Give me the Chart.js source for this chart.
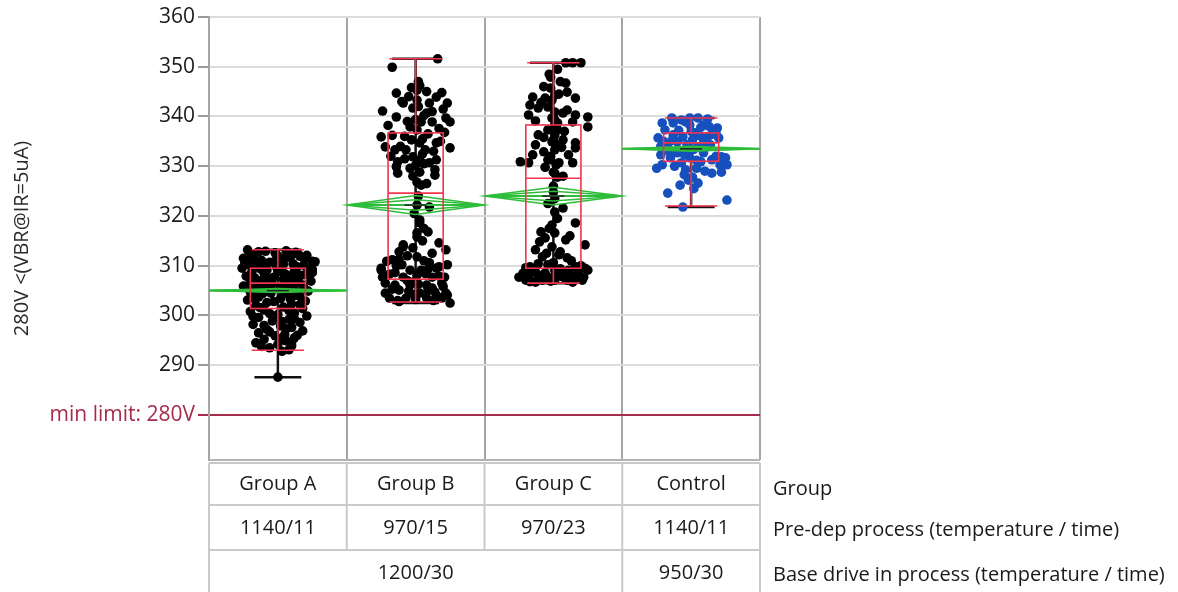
<!DOCTYPE html>
<html><head><meta charset="utf-8">
<script src="https://cdn.jsdelivr.net/npm/chart.js@4"></script>
<style>html,body{margin:0;padding:0;background:#fff}canvas{display:block}</style>
</head><body>
<canvas id="c" width="1178" height="592"></canvas>
<script>
// ---------- DATA ----------
const groupLabels = ['Group A','Group B','Group C','Control'];
const preDepLabels = ['1140/11','970/15','970/23','1140/11'];
const baseDriveLabels = ['1200/30','950/30'];
const baseDriveSpans = [3,1];
const rowTitles = ['Group','Pre-dep process (temperature / time)','Base drive in process (temperature / time)'];
const yAxisTitle = '280V <(VBR@IR=5uA)';
const yTickValues = [280,290,300,310,320,330,340,350,360];
const limitValue = 280;
const limitLabel = 'min limit: 280V';

const aValues = [313.2,312.9,313.0,312.7,312.4,312.1,312.6,311.7,311.5,311.9,311.1,310.9,311.3,310.7,310.8,310.2,310.4,309.9,310.1,309.7,309.5,309.3,309.1,308.9,308.7,308.4,308.2,307.9,307.7,307.5,307.2,306.9,306.7,306.5,306.3,306.1,305.9,305.7,305.4,305.2,304.9,304.7,304.5,304.2,303.9,303.7,303.4,303.1,302.9,302.6,302.3,302.0,301.7,301.4,301.1,300.8,300.5,300.2,299.9,299.6,299.2,298.9,298.6,298.2,297.9,297.6,297.2,296.9,296.5,296.2,295.9,295.5,295.2,294.9,294.5,294.2,293.9,293.5,293.1,292.8,287.6,312.0,311.6,310.0,309.0,308.0,307.4,306.0,305.0,312.3,311.0,308.6,307.0,
  312.8,312.5,311.8,311.4,310.9,310.5,310.3,309.8,309.4,309.2,308.8,308.5,308.1,307.8,307.6,307.3,306.8,306.6,306.2,305.8,305.5,305.1,304.8,304.4,304.0,303.6,303.3,302.8,302.2,301.6,301.0,300.4,299.8,299.3,298.8,298.0,297.3,296.7,296.0,295.3,294.6,293.8];
const aJitter = [-0.22,-0.09,0.06,0.13,-0.17,0.21,-0.02,0.09,-0.25,0.16,-0.12,0.25,0.01,-0.06,0.27,-0.21,0.11,-0.15,0.19,-0.01,-0.26,0.22,-0.08,0.12,-0.19,0.05,0.20,-0.23,-0.03,0.15,-0.11,0.24,-0.16,0.08,-0.04,0.18,-0.25,0.02,-0.12,0.12,0.22,-0.20,-0.05,0.08,0.16,-0.14,0.02,-0.22,0.20,-0.08,0.10,-0.16,0.04,0.18,-0.10,-0.20,0.12,0.00,0.21,-0.14,0.08,-0.04,0.16,-0.18,0.02,0.10,-0.08,0.18,-0.14,0.05,-0.02,0.12,-0.10,0.06,-0.16,0.00,0.10,-0.06,0.08,0.03,0.00,0.00,0.05,-0.10,0.02,0.08,-0.06,0.10,-0.08,0.15,-0.18,0.25,-0.20,
  -0.14,0.09,-0.20,0.19,-0.02,-0.24,0.04,0.14,-0.13,0.25,0.00,-0.10,0.17,0.11,-0.17,0.04,0.14,-0.09,-0.20,0.07,0.19,-0.15,0.04,-0.11,0.12,-0.19,0.09,-0.03,0.16,-0.13,0.08,-0.06,-0.18,0.12,0.03,-0.10,0.06,-0.06,0.14,0.02,0.10,-0.12];

const bValues = [351.6,349.9,344.7,342.7,341.1,339.9,345.3,343.3,342.7,343.9,342.7,340.7,338.9,339.7,338.9,341.7,338.9,337.3,335.9,333.9,333.3,335.3,334.7,333.3,334.7,333.7,333.3,331.9,330.9,331.3,330.7,331.3,329.9,329.3,329.6,328.8,326.8,328.2,328.6,322.2,321.8,326.2,318.6,316.8,315.8,314.2,313.6,314.6,313.2,311.8,311.2,310.2,310.6,309.5,309.1,309.1,309.5,310.2,307.7,307.7,308.1,307.7,307.7,306.1,306.1,306.1,306.5,304.5,305.1,304.5,304.7,304.1,303.5,303.5,303.5,303.5,302.5,309.1,306.5,311.2,313.8,316.6,309.8,304.5,319.2,317.5,346.2,344.0,340.2,337.9,336.5,336.0,335.0,332.5,332.0,330.2,344.8,341.5,338.2,336.8,308.6,308.4,306.8,305.5,304.9,303.2,303.0,305.8,310.9,312.5,302.8,345.8,347.0,320.5,324.0,
  343.0,341.0,339.0,337.6,336.2,335.5,334.0,333.0,331.5,330.5,328.0,326.5,342.0,345.0,339.4,312.0,311.0,310.0,309.3,308.3,307.9,307.0,306.3,305.3,304.2,303.8,303.0,305.0,315.0,312.8];
const bJitter = [0.16,-0.17,-0.14,-0.09,-0.24,-0.14,0.01,0.01,0.10,0.15,0.23,0.08,0.12,0.22,0.25,-0.02,0.04,0.01,-0.25,-0.22,-0.15,-0.03,0.03,0.07,0.15,0.25,-0.07,-0.02,-0.13,0.03,0.10,0.15,-0.14,0.14,-0.04,0.03,0.01,0.14,-0.13,0.01,0.10,0.04,0.03,0.09,0.01,-0.09,-0.02,0.17,0.22,0.01,-0.17,-0.10,0.10,-0.25,-0.04,0.04,0.15,0.23,-0.24,-0.09,0.01,0.12,0.21,-0.15,-0.04,0.08,0.19,-0.22,-0.12,0.03,0.14,0.23,-0.19,-0.07,0.08,0.19,0.25,-0.25,-0.22,-0.12,-0.09,0.01,0.17,0.22,0.03,0.06,0.03,-0.05,0.06,-0.04,0.09,-0.08,0.18,0.05,-0.18,0.00,0.19,0.20,-0.20,0.21,-0.15,0.07,-0.01,0.12,-0.05,0.00,0.13,0.20,-0.21,0.12,-0.12,-0.03,0.02,-0.01,0.02,
  -0.10,0.12,-0.06,0.17,-0.17,0.05,-0.11,0.13,-0.08,0.06,-0.02,0.08,0.02,0.08,0.00,-0.06,0.06,-0.14,0.09,-0.19,0.17,-0.06,0.02,-0.17,-0.01,0.16,-0.13,0.09,0.05,-0.12];

const cValues = [350.8,350.8,350.8,347.9,345.7,346.7,344.9,343.7,343.9,342.3,341.7,340.3,343.7,341.9,340.9,340.7,340.3,339.9,337.9,338.9,338.7,337.3,336.3,336.3,334.3,334.9,335.3,334.7,332.9,333.3,332.3,332.3,333.7,330.9,330.7,331.3,330.7,330.7,328.8,327.8,328.6,320.8,321.6,318.6,318.2,316.8,316.6,315.6,315.2,313.2,313.8,314.2,311.8,312.2,311.6,310.6,309.8,309.5,309.8,307.7,307.7,307.7,307.7,307.7,307.7,307.7,308.5,308.7,308.7,308.7,309.1,309.1,308.5,309.1,307.1,307.1,307.1,307.1,307.1,306.7,306.7,338.3,339.3,339.7,337.3,335.3,334.3,343.3,344.3,331.3,330.3,326.0,323.5,348.5,347.0,310.2,308.0,306.9,312.8,317.5,
  349.5,346.0,344.5,342.8,341.3,339.1,337.0,335.8,333.8,332.0,329.8,328.0,324.8,322.5,319.5,316.0,314.8,312.5,311.0,310.4,309.4,308.9,308.2,307.5,307.3,306.8,307.9,308.1,310.0,309.6];
const cJitter = [0.09,0.14,0.20,-0.02,-0.02,0.09,0.10,0.16,-0.15,-0.17,-0.11,-0.18,-0.06,-0.04,0.01,0.07,0.16,0.25,0.25,0.14,0.03,-0.04,-0.11,0.01,-0.13,-0.01,0.07,0.16,-0.07,0.01,-0.15,0.11,0.16,-0.24,-0.18,-0.04,0.04,0.14,0.00,0.03,0.01,0.01,0.07,0.16,-0.01,-0.09,0.01,-0.06,0.09,-0.13,-0.01,0.23,-0.08,0.04,0.10,0.00,-0.17,0.23,0.16,-0.25,-0.18,-0.11,-0.04,0.07,0.14,0.22,-0.22,-0.13,0.04,0.18,0.25,0.01,-0.06,0.11,-0.20,-0.08,0.01,0.10,0.21,-0.13,0.14,0.01,0.01,-0.01,0.03,0.00,0.02,-0.01,0.01,-0.02,0.02,0.00,0.01,-0.03,0.05,-0.04,0.08,-0.02,0.05,-0.03,
  0.03,-0.07,0.04,-0.09,0.10,-0.13,0.08,-0.07,0.06,-0.02,-0.06,0.07,0.00,-0.04,0.03,0.12,-0.10,-0.05,0.13,-0.11,0.05,-0.16,0.12,-0.01,0.18,-0.17,0.06,-0.08,0.20,-0.20];

const ctlValues = [339.7,339.7,339.7,339.3,338.7,337.3,337.7,335.7,336.3,335.9,336.7,335.9,335.7,334.3,334.3,333.9,334.3,332.9,332.7,332.7,332.3,331.7,331.7,331.7,329.6,330.3,330.9,331.3,330.3,330.3,328.8,329.6,329.3,327.8,326.6,326.2,324.6,323.2,321.8,338.7,338.3,338.3,334.9,335.3,330.7,327.2,337.0,336.0,333.0,332.0,329.0,328.3,325.5,338.0,335.0,
  339.5,338.9,337.8,337.2,336.4,335.2,334.6,333.4,332.4,331.2,330.0,328.6,336.9,334.0,331.9];
const ctlJitter = [-0.14,-0.01,0.05,-0.07,-0.21,-0.19,0.19,-0.24,-0.13,-0.06,0.03,0.12,0.20,-0.17,-0.03,0.05,0.14,-0.01,-0.10,0.09,-0.22,-0.15,-0.01,0.25,-0.25,-0.21,0.07,0.15,0.21,0.26,0.22,0.04,-0.04,0.01,0.05,-0.08,-0.17,0.26,-0.06,-0.13,-0.01,0.09,-0.10,0.01,-0.07,-0.02,0.00,0.07,-0.16,0.18,0.10,-0.05,0.02,0.13,-0.20,
  0.12,-0.04,0.07,-0.09,0.15,-0.14,0.09,0.02,-0.05,0.04,-0.12,0.15,0.18,-0.22,0.22];

// box-plot statistics
const whiskerHigh = [313.2,351.6,350.8,339.7];
const q3 = [309.5,336.7,338.3,336.7];
const median = [306.5,324.6,327.6,334.7];
const q1 = [301.4,307.3,309.5,331.0];
const whiskerLow = [293.0,302.7,306.5,322.0];
const rangeLow = [287.6,302.5,306.5,321.8];
const rangeHigh = [313.2,351.6,350.8,339.7];
const means = [305.0,322.2,324.0,333.5];
const meanCI = [0.4,1.9,1.8,0.5];

// ---------- CHART ----------
Chart.defaults.font.family = "'Open Sans','Noto Sans',sans-serif";
const RED = '#f4334f', GREEN = '#2ebd3a', LIMIT = '#a62b4d';

function pts(vals, jit, g){ return vals.map((v,k)=>({x:g+jit[k], y:v})); }

function seg(ctx,x1,y1,x2,y2){ ctx.beginPath(); ctx.moveTo(x1,y1); ctx.lineTo(x2,y2); ctx.stroke(); }

const overlay = {
  id:'overlay',
  beforeDatasetsDraw(chart){
    const {ctx, scales:{x,y}} = chart;
    ctx.save();
    ctx.strokeStyle = '#111'; ctx.lineWidth = 2.5;
    groupLabels.forEach((g,i)=>{
      const cx = x.getPixelForValue(i);
      const hw = x.getPixelForValue(i+0.17) - cx;
      const lo = y.getPixelForValue(rangeLow[i]), hi = y.getPixelForValue(rangeHigh[i]);
      seg(ctx,cx,lo,cx,hi);
      seg(ctx,cx-hw,lo,cx+hw,lo);
      seg(ctx,cx-hw,hi,cx+hw,hi);
    });
    ctx.restore();
  },
  afterDatasetsDraw(chart){
    const {ctx, scales:{x,y}} = chart;
    ctx.save();
    groupLabels.forEach((g,i)=>{
      const cx = x.getPixelForValue(i);
      const L = x.getPixelForValue(i-0.5), R = x.getPixelForValue(i+0.5);
      const m = y.getPixelForValue(means[i]);
      const t = y.getPixelForValue(means[i]+meanCI[i]), b = y.getPixelForValue(means[i]-meanCI[i]);
      const ti = y.getPixelForValue(means[i]+meanCI[i]*0.55), bi = y.getPixelForValue(means[i]-meanCI[i]*0.55);
      ctx.strokeStyle = GREEN; ctx.lineWidth = 1.5;
      ctx.beginPath(); ctx.moveTo(L,m); ctx.lineTo(cx,t); ctx.lineTo(R,m); ctx.lineTo(cx,b); ctx.closePath(); ctx.stroke();
      ctx.beginPath(); ctx.moveTo(L,m); ctx.lineTo(cx,ti); ctx.lineTo(R,m); ctx.lineTo(cx,bi); ctx.closePath(); ctx.stroke();
      ctx.lineWidth = 2;
      seg(ctx,L,m,R,m);
      const bw = x.getPixelForValue(i+0.2) - cx;
      const cw = x.getPixelForValue(i+0.19) - cx;
      const pQ3 = y.getPixelForValue(q3[i]), pQ1 = y.getPixelForValue(q1[i]);
      const pMed = y.getPixelForValue(median[i]);
      const pHi = y.getPixelForValue(whiskerHigh[i]), pLo = y.getPixelForValue(whiskerLow[i]);
      ctx.strokeStyle = RED; ctx.lineWidth = 1.6;
      ctx.strokeRect(cx-bw, pQ3, 2*bw, pQ1-pQ3);
      seg(ctx,cx-bw,pMed,cx+bw,pMed);
      seg(ctx,cx,pQ3,cx,pHi); seg(ctx,cx,pQ1,cx,pLo);
      seg(ctx,cx-cw,pHi,cx+cw,pHi); seg(ctx,cx-cw,pLo,cx+cw,pLo);
      ctx.strokeStyle = '#222'; ctx.lineWidth = 1.5;
      const mw = x.getPixelForValue(i+0.08) - cx;
      seg(ctx,cx-mw,m,cx+mw,m);
    });
    ctx.restore();
  },
  afterDraw(chart){
    const {ctx, chartArea:a, scales:{x,y}} = chart;
    ctx.save();
    ctx.strokeStyle = '#b4b4b4'; ctx.lineWidth = 2;
    seg(ctx,a.left,a.bottom,a.right,a.bottom);
    const edges = [-0.5,0.5,1.5,2.5,3.5].map(v=>x.getPixelForValue(v));
    const r0 = a.bottom+3, r1 = 505, r2 = 550, r3 = 592;
    ctx.strokeStyle = '#c9c9c9'; ctx.lineWidth = 2;
    seg(ctx,edges[0],r0,edges[4],r0);
    seg(ctx,edges[0],r1,edges[4],r1);
    seg(ctx,edges[0],r2,edges[4],r2);
    edges.forEach(e=>seg(ctx,e,r0,e,r2));
    let acc = 0;
    const spanEdges = [edges[0]];
    baseDriveSpans.forEach(s=>{ acc += s; spanEdges.push(edges[acc]); });
    spanEdges.forEach(e=>seg(ctx,e,r2,e,r3));
    ctx.fillStyle = '#1a1a1a';
    ctx.font = "20px 'Open Sans','Noto Sans',sans-serif";
    ctx.textAlign = 'center'; ctx.textBaseline = 'middle';
    groupLabels.forEach((g,i)=>ctx.fillText(g, x.getPixelForValue(i), (r0+r1)/2));
    preDepLabels.forEach((g,i)=>ctx.fillText(g, x.getPixelForValue(i), (r1+r2)/2+1));
    baseDriveLabels.forEach((g,i)=>ctx.fillText(g, (spanEdges[i]+spanEdges[i+1])/2, (r2+r3)/2+2));
    ctx.textAlign = 'left';
    const lx = edges[4] + 13;
    ctx.fillText(rowTitles[0], lx, (r0+r1)/2+5);
    ctx.fillText(rowTitles[1], lx, (r1+r2)/2+3);
    ctx.fillText(rowTitles[2], lx, (r2+r3)/2+4);
    ctx.restore();
  }
};

new Chart(document.getElementById('c'), {
  type:'scatter',
  data:{ datasets:[
    {data:pts(aValues,aJitter,0), backgroundColor:'#000'},
    {data:pts(bValues,bJitter,1), backgroundColor:'#000'},
    {data:pts(cValues,cJitter,2), backgroundColor:'#000'},
    {data:pts(ctlValues,ctlJitter,3), backgroundColor:'#1550bd'}
  ]},
  options:{
    responsive:false, animation:false,
    layout:{padding:{top:17,right:418,bottom:0,left:0}},
    elements:{point:{radius:4.8,borderWidth:0,hoverRadius:4.8}},
    plugins:{legend:{display:false},tooltip:{enabled:false}},
    scales:{
      x:{type:'linear',min:-0.5,max:3.5,
        afterBuildTicks(s){ s.ticks=[-0.5,0.5,1.5,2.5,3.5].map(v=>({value:v})); },
        afterFit(s){ s.height = 132; },
        ticks:{display:false},
        border:{display:false},
        grid:{color:'#a6a6a6',lineWidth:2,drawTicks:false}
      },
      y:{type:'linear',min:270.95,max:360,
        afterBuildTicks(s){ s.ticks=yTickValues.map(v=>({value:v})); },
        afterFit(s){ s.width = 209; },
        border:{display:true,color:'#a6a6a6',width:2},
        grid:{
          color:c=>c.tick && c.tick.value===limitValue ? LIMIT : '#dcdcdc',
          tickColor:c=>c.tick && c.tick.value===limitValue ? LIMIT : '#9a9a9a',
          lineWidth:2, tickLength:11
        },
        ticks:{
          padding:3,
          font:{size:21},
          color:c=>c.tick && c.tick.value===limitValue ? LIMIT : '#1a1a1a',
          callback:v=> v===limitValue ? limitLabel : String(v)
        },
        title:{display:true,text:yAxisTitle,font:{size:20},color:'#2a2a2a',padding:{top:10,bottom:0}}
      }
    }
  },
  plugins:[overlay]
});
</script>
</body></html>
